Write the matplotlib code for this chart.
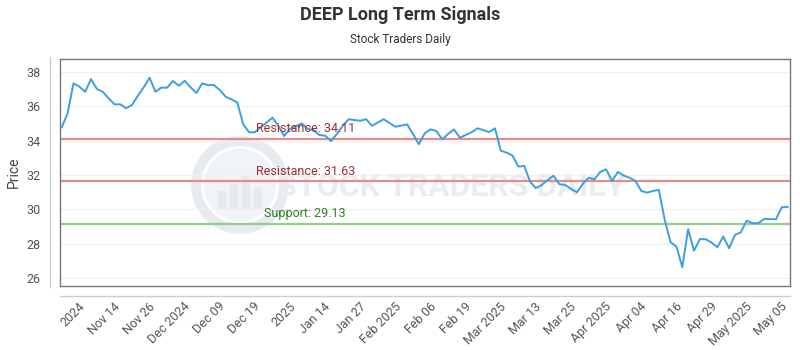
import matplotlib
matplotlib.use("Agg")
import matplotlib.pyplot as plt
from matplotlib.lines import Line2D
from matplotlib.patches import Circle

plt.rcParams['font.family'] = ['Roboto', 'DejaVu Sans']

title = "DEEP Long Term Signals"
subtitle = "Stock Traders Daily"

prices = [
    34.78, 35.59, 37.34, 37.15, 36.85, 37.59, 37.01, 36.85, 36.47, 36.12,
    36.12, 35.89, 36.08, 36.62, 37.11, 37.67, 36.85, 37.09, 37.09, 37.48,
    37.20, 37.49, 37.11, 36.78, 37.34, 37.24, 37.24, 36.95, 36.56, 36.41,
    36.21, 34.95, 34.49, 34.49, 34.80, 35.06, 35.34, 34.86, 34.27, 34.70,
    34.85, 35.01, 34.68, 34.62, 34.33, 34.29, 33.98, 34.39, 34.86, 35.25,
    35.20, 35.16, 35.25, 34.87, 35.06, 35.25, 35.03, 34.81, 34.88, 34.95,
    34.39, 33.79, 34.43, 34.66, 34.56, 34.08, 34.39, 34.66, 34.17, 34.33,
    34.49, 34.72, 34.62, 34.50, 34.72, 33.42, 33.30, 33.13, 32.49, 32.53,
    31.61, 31.23, 31.42, 31.71, 31.96, 31.46, 31.42, 31.19, 30.99, 31.48,
    31.84, 31.75, 32.18, 32.33, 31.65, 32.18, 31.96, 31.84, 31.65, 31.07,
    30.97, 31.07, 31.13, 29.38, 28.08, 27.83, 26.63, 28.84, 27.59, 28.26,
    28.26, 28.06, 27.79, 28.41, 27.73, 28.51, 28.66, 29.34, 29.19, 29.19,
    29.44, 29.43, 29.42, 30.12, 30.14,
]

tick_labels = ["2024", "Nov 14", "Nov 26", "Dec 2024", "Dec 09", "Dec 19", "2025",
               "Jan 14", "Jan 27", "Feb 2025", "Feb 06", "Feb 19", "Mar 2025",
               "Mar 13", "Mar 25", "Apr 2025", "Apr 04", "Apr 16", "Apr 29",
               "May 2025", "May 05"]
tick_index = [2.8 + 6 * k for k in range(len(tick_labels))]

levels = [34.11, 31.63, 29.13]
level_names = ["Resistance", "Resistance", "Support"]
level_colors = ["#e38c8c", "#e38c8c", "#94cc8c"]
label_colors = ["#9b2f35", "#9b2f35", "#2f7d22"]
label_index = [33.2, 33.2, 34.5]
yticks = [26, 28, 30, 32, 34, 36, 38]

W, H = 800, 350
fig = plt.figure(figsize=(8, 3.5), dpi=100)
L, R, T, B = 60, 790, 59, 286

# watermark layer
wm_ax = fig.add_axes([L / W, 1 - B / H, (R - L) / W, (B - T) / H], zorder=0)
wm_ax.set_xlim(0, R - L)
wm_ax.set_ylim(B - T, 0)
wm_ax.axis('off')
wm_ax.add_patch(Circle((180, 126), 44, fill=False, lw=7, ec="#e6ebf1"))
wm_ax.add_patch(Circle((180, 126), 36, fill=True, lw=0, fc="#f0f3f7"))
for bx, bh in [(162, 18), (174, 26), (186, 34), (198, 22)]:
    wm_ax.add_patch(plt.Rectangle((bx - 4, 150 - bh), 8, bh, fc="#e4eaf0", lw=0))
wm_ax.text(391, 128, "STOCK TRADERS DAILY", fontsize=23, color="#e9edf2",
           ha="center", va="center", fontweight="bold")

ax = fig.add_axes([L / W, 1 - B / H, (R - L) / W, (B - T) / H], zorder=1)
ax.patch.set_alpha(0)

x = list(range(len(prices)))

for yv in yticks:
    ax.axhline(yv, color="#f0f0f0", lw=0.8, zorder=1)

for lv, nm, c, lc, li in zip(levels, level_names, level_colors, label_colors, label_index):
    ax.axhline(lv, color=c, lw=1.6, zorder=2)
    ax.text(li, lv + 0.22, f"{nm}: {lv:.2f}", color=lc, fontsize=9, ha="left",
            va="bottom", zorder=4)

ax.plot(x, prices, color="#3b9fe3", lw=1.4, zorder=3)

ax.set_xlim(-0.3, 124.4)
ax.set_ylim(25.53, 38.76)
ax.set_yticks(yticks)
ax.set_yticklabels([str(v) for v in yticks])
ax.set_xticks(tick_index)
ax.set_xticklabels(tick_labels, rotation=45, ha="right", rotation_mode="anchor")
ax.tick_params(axis="y", length=0, pad=14, labelsize=9, labelcolor="#555555")
ax.tick_params(axis="x", length=0, pad=10, labelsize=9, labelcolor="#555555")
for s in ax.spines.values():
    s.set_color("#777777")
    s.set_linewidth(1.0)
ax.set_ylabel("Price", fontsize=10, color="#444444", labelpad=4)

# outer axis lines
fig.add_artist(Line2D([50 / W, 50 / W], [1 - 287 / H, 1 - 57 / H], color="#cccccc", lw=1,
                      transform=fig.transFigure))
fig.add_artist(Line2D([60 / W, 790 / W], [1 - 296 / H, 1 - 296 / H], color="#cccccc", lw=1,
                      transform=fig.transFigure))

fig.text(0.5, 1 - 15 / H, title, ha="center", va="center", fontsize=13,
         fontweight="bold", color="#333333")
fig.text(0.5, 1 - 40 / H, subtitle, ha="center", va="center", fontsize=8.5,
         color="#333333")

fig.savefig("out.png", dpi=100)
